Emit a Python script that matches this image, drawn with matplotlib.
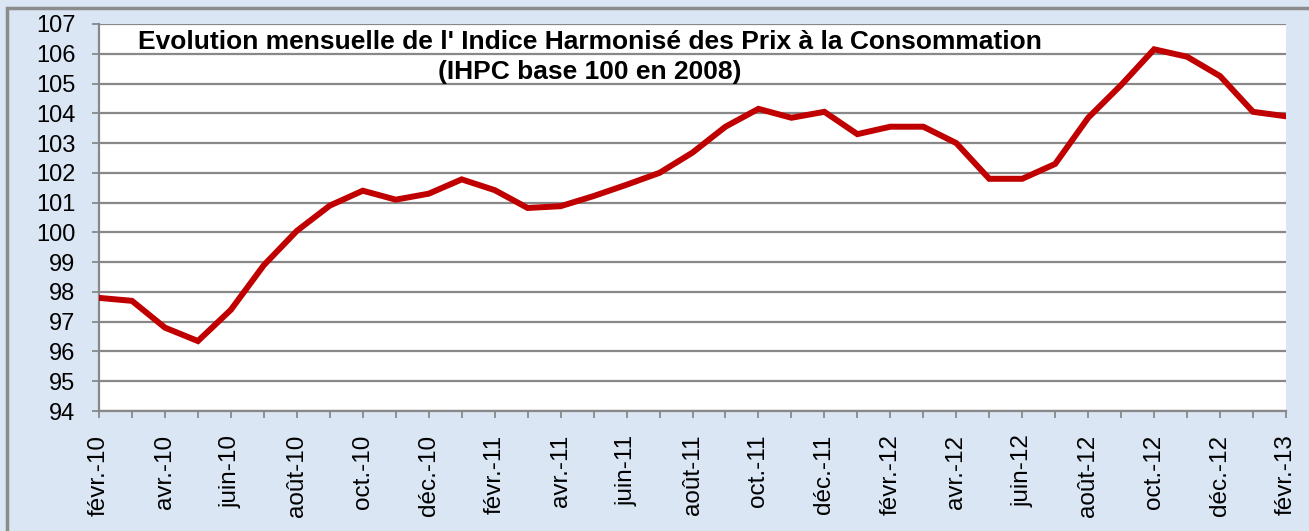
import matplotlib.pyplot as plt
from matplotlib.patches import Rectangle

plt.rcParams['font.family'] = ['Liberation Sans', 'DejaVu Sans']

# Monthly IHPC values, févr.-10 .. févr.-13
months = ['févr.-10', 'mars-10', 'avr.-10', 'mai-10', 'juin-10', 'juil.-10',
          'août-10', 'sept.-10', 'oct.-10', 'nov.-10', 'déc.-10', 'janv.-11',
          'févr.-11', 'mars-11', 'avr.-11', 'mai-11', 'juin-11', 'juil.-11',
          'août-11', 'sept.-11', 'oct.-11', 'nov.-11', 'déc.-11', 'janv.-12',
          'févr.-12', 'mars-12', 'avr.-12', 'mai-12', 'juin-12', 'juil.-12',
          'août-12', 'sept.-12', 'oct.-12', 'nov.-12', 'déc.-12', 'janv.-13',
          'févr.-13']
ihpc = [97.8, 97.7, 96.8, 96.35, 97.4, 98.9, 100.05, 100.9, 101.4, 101.1,
        101.3, 101.78, 101.42, 100.82, 100.88, 101.22, 101.6, 102.0, 102.68,
        103.55, 104.15, 103.85, 104.05, 103.3, 103.55, 103.55, 103.0, 101.8,
        101.8, 102.3, 103.85, 104.95, 106.15, 105.9, 105.25, 104.05, 103.9]
yticks = list(range(94, 108))

bg = '#dae6f3'
fig = plt.figure(figsize=(13.09, 5.31), dpi=100, facecolor=bg)
# outer gray frame
fig.patches.append(Rectangle((7 / 1309, -0.1), 1.2, 1 - 8 / 531 + 0.1,
                             transform=fig.transFigure, fill=False,
                             edgecolor='#8c8c8c', linewidth=2.5, zorder=0))

ax = fig.add_axes([99 / 1309, 1 - 411 / 531, (1286 - 99) / 1309, (411 - 24) / 531])
ax.set_facecolor('white')

x = list(range(len(months)))
ax.plot(x, ihpc, color='#c00000', linewidth=4.3, solid_joinstyle='miter', zorder=3)

ax.set_xlim(0, len(months) - 1)
ax.set_ylim(94, 107)
ax.set_yticks(yticks)
ax.set_yticklabels([str(v) for v in yticks], fontsize=17)
ax.set_xticks(x[::2])
ax.set_xticklabels(months[::2], rotation=90, fontsize=17.5, va='top')
ax.set_xticks(x, minor=True)

ax.grid(axis='y', color='#888888', linewidth=1.6, zorder=1)
ax.tick_params(axis='y', length=5, width=1.3, color='#888888', pad=12)
ax.tick_params(axis='x', which='both', length=5, width=1.3, color='#888888', pad=12)

for s in ['top', 'right']:
    ax.spines[s].set_visible(False)
for s in ['left', 'bottom']:
    ax.spines[s].set_color('#888888')
    ax.spines[s].set_linewidth(1.6)

ax.text(590 / 1309, 1 - 57 / 531,
        "Evolution mensuelle de l' Indice Harmonisé des Prix à la Consommation\n(IHPC base 100 en 2008)",
        transform=fig.transFigure, ha='center', va='center', multialignment='center',
        fontsize=19, fontweight='bold', linespacing=1.35)

fig.savefig('out.png', dpi=100, facecolor=bg)
